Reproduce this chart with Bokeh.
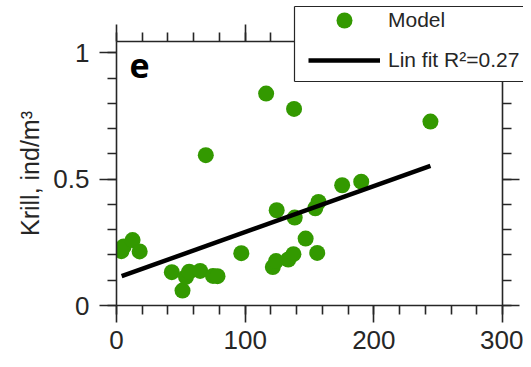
from bokeh.plotting import figure
from bokeh.layouts import column
from bokeh.models import (Range1d, LinearAxis, SingleIntervalTicker, FixedTicker, Legend,
                          LegendItem, Label, CustomJSTickFormatter)
from bokeh.embed import file_html
from bokeh.resources import INLINE

# ---- data ----
model_x = [3.8, 5.6, 12.5, 18.0, 43.0, 51.3, 54.0, 56.5, 65.0, 75.0, 78.5, 69.4, 97.0,
           116.3, 121.5, 124.0, 124.5, 133.5, 137.5, 138.0, 138.5, 147.0, 156.0, 154.5,
           157.0, 175.4, 190.2, 244.0]
model_y = [0.215, 0.234, 0.259, 0.214, 0.132, 0.059, 0.113, 0.134, 0.137, 0.117, 0.116, 0.595, 0.207,
           0.839, 0.152, 0.176, 0.377, 0.182, 0.203, 0.778, 0.348, 0.265, 0.208, 0.385,
           0.410, 0.476, 0.490, 0.728]
fit_x = [4.0, 244.0]
fit_y = [0.116, 0.553]
y_tick_labels = {0: "0", 0.5: "0.5", 1: "1"}
x_range = (0, 300)
y_range = (0, 1.045)
series_label = "Model"
fit_label = "Lin fit R\u00b2=0.27"
panel_letter = "e"
y_axis_label = "Krill, ind/m\u00b3"

GREEN = "#339900"
DARK = "#262626"
FONT = "Liberation Sans"

W, H = 523, 359

p = figure(width=W, height=H, output_backend="svg", toolbar_location=None,
           x_range=Range1d(*x_range), y_range=Range1d(*y_range),
           min_border_left=116, min_border_right=21, min_border_top=41, min_border_bottom=54,
           x_axis_location=None, y_axis_location=None)
p.outline_line_color = None
p.xgrid.visible = False
p.ygrid.visible = False
p.background_fill_color = "white"
p.border_fill_color = "white"

blank = CustomJSTickFormatter(code="return ''")


def style_axis(ax, show_labels):
    ax.axis_line_color = DARK
    ax.axis_line_width = 1.6
    ax.major_tick_line_color = DARK
    ax.minor_tick_line_color = DARK
    ax.major_tick_line_width = 1.6
    ax.minor_tick_line_width = 1.6
    ax.major_tick_in = 0
    ax.major_tick_out = 17
    ax.minor_tick_in = 0
    ax.minor_tick_out = 9
    ax.major_label_text_font = FONT
    ax.major_label_text_color = DARK
    ax.major_label_text_font_size = "26px"
    ax.axis_label_text_font = FONT
    ax.axis_label_text_font_style = "normal"
    ax.axis_label_text_color = DARK
    if not show_labels:
        ax.formatter = blank
        ax.major_label_standoff = 0


xt = SingleIntervalTicker(interval=100, num_minor_ticks=5)
yt = SingleIntervalTicker(interval=0.5, num_minor_ticks=5)

xb = LinearAxis(ticker=xt)
style_axis(xb, True)
xb.major_label_standoff = 8
p.add_layout(xb, "below")

xa = LinearAxis(ticker=xt)
style_axis(xa, False)
p.add_layout(xa, "above")

yl = LinearAxis(ticker=yt, axis_label=y_axis_label)
style_axis(yl, True)
yl.major_label_overrides = y_tick_labels
yl.major_label_standoff = 10
yl.axis_label_text_font_size = "25px"
yl.axis_label_standoff = 6
p.add_layout(yl, "left")

yr = LinearAxis(ticker=yt)
style_axis(yr, False)
p.add_layout(yr, "right")

p.scatter(model_x, model_y, size=16, fill_color=GREEN, line_color=None)
p.line(fit_x, fit_y, line_color="black", line_width=4.5)

p.add_layout(Label(x=13, y=240, x_units="screen", y_units="screen", text=panel_letter,
                   text_font="Open Sans", text_font_style="bold", text_font_size="34px",
                   text_color="black", text_baseline="alphabetic"))

# ---- legend: a small overlaid figure whose frame is the legend box ----
LW, LH = 233, 85
lf = figure(width=LW, height=LH, output_backend="svg", toolbar_location=None,
            x_range=Range1d(0, 1), y_range=Range1d(0, 1),
            min_border_left=4, min_border_right=0, min_border_top=6, min_border_bottom=4,
            x_axis_location=None, y_axis_location=None)
lf.outline_line_color = None
lf.xgrid.visible = False
lf.ygrid.visible = False
lf.background_fill_color = "white"
lf.border_fill_color = None

for fig in (p, lf):
    if "frame_align" in fig.properties():
        fig.frame_align = False

for side in ("left", "above", "below"):
    ax = LinearAxis(ticker=FixedTicker(ticks=[]))
    ax.axis_line_color = DARK
    ax.axis_line_width = 1.2
    ax.major_tick_out = 0
    ax.major_tick_in = 0
    ax.minor_tick_out = 0
    ax.minor_tick_in = 0
    ax.major_label_standoff = 0
    ax.formatter = blank
    lf.add_layout(ax, side)

nan = float("nan")
leg_pts = lf.scatter(x=[nan], y=[nan], size=16, fill_color=GREEN, line_color=None)
leg_fit = lf.line(x=[nan, nan], y=[nan, nan], line_color="black", line_width=4.5)

legend = Legend(items=[LegendItem(label=series_label, renderers=[leg_pts]),
                       LegendItem(label=fit_label, renderers=[leg_fit])],
                location=(14, 1), orientation="vertical",
                glyph_width=72, glyph_height=40, spacing=-8, padding=0, margin=0,
                label_standoff=8, label_text_font=FONT, label_text_font_size="21px",
                label_text_color=DARK, border_line_color=None,
                background_fill_alpha=0.0)
lf.add_layout(legend, "center")

lf.margin = (-H, 0, H - LH, W - LW)

layout = column(p, lf, spacing=0)

open("out.html", "w").write(file_html(layout, INLINE))
